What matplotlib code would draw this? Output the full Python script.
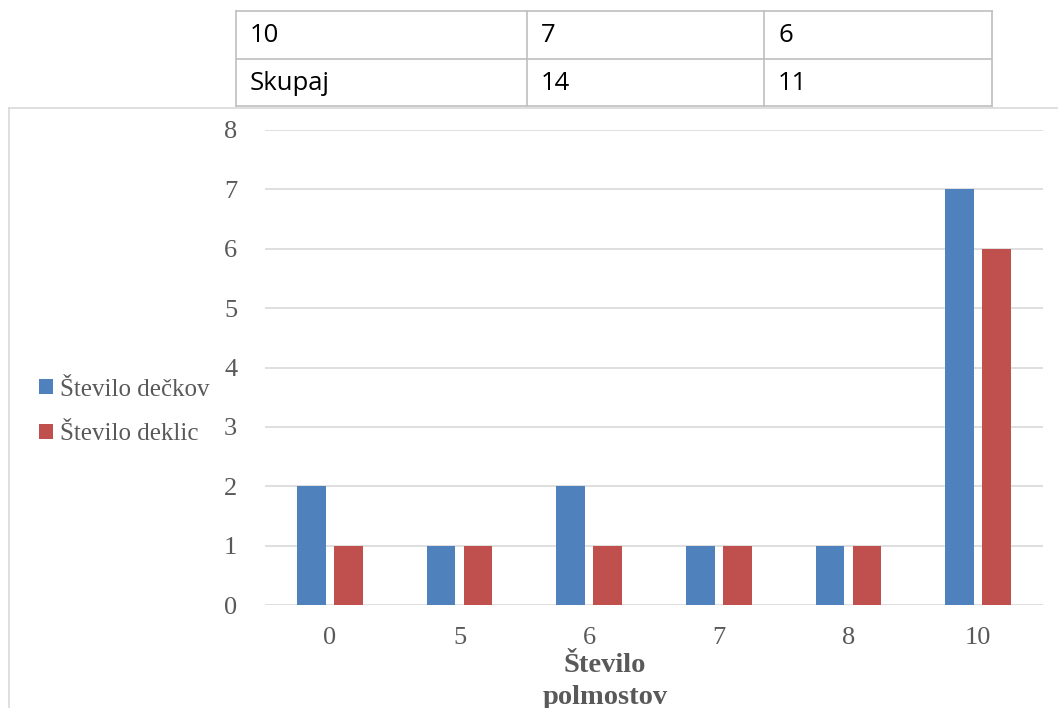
import matplotlib
matplotlib.use("Agg")
import matplotlib.pyplot as plt
import numpy as np
from matplotlib.lines import Line2D

# Data
categories = ["0", "5", "6", "7", "8", "10"]
boys = [2, 1, 2, 1, 1, 7]
girls = [1, 1, 1, 1, 1, 6]
series_labels = ["Število dečkov", "Število deklic"]
table_rows = [["10", "7", "6"], ["Skupaj", "14", "11"]]
y_ticks = [0, 1, 2, 3, 4, 5, 6, 7, 8]

W, H = 1058, 708
fig = plt.figure(figsize=(W / 100, H / 100), dpi=100)


def fx(px):
    return px / W


def fy(py):
    return 1 - py / H


# Table fragment above the chart
tcol = "#bfbfbf"
col_edges = [236, 527, 764, 992]
row_edges = [11, 59, 106]
for yy in row_edges:
    fig.add_artist(Line2D([fx(col_edges[0]), fx(col_edges[-1])], [fy(yy), fy(yy)],
                          color=tcol, lw=1.2))
for xx in col_edges:
    fig.add_artist(Line2D([fx(xx), fx(xx)], [fy(row_edges[0]), fy(row_edges[-1])],
                          color=tcol, lw=1.2))
for r, row in enumerate(table_rows):
    yc = (row_edges[r] + row_edges[r + 1]) / 2 + 1
    for c, txt in enumerate(row):
        fig.text(fx(col_edges[c] + 14), fy(yc), txt, family="Open Sans",
                 fontsize=18.5, color="black", va="center", ha="left")

# Chart frame
fcol = "#d9d9d9"
fig.add_artist(Line2D([fx(9), fx(9)], [fy(108), 0], color=fcol, lw=1.2))
fig.add_artist(Line2D([fx(9), 1], [fy(108), fy(108)], color=fcol, lw=1.2))

# Plot area
ax = fig.add_axes([fx(265), fy(605), (1043 - 265) / W, (605 - 130) / H])
x = np.arange(len(categories))
bw = 0.223
off = 0.1425
b1 = ax.bar(x - off, boys, width=bw, color="#4f81bd", label=series_labels[0], zorder=3)
b2 = ax.bar(x + off, girls, width=bw, color="#c0504d", label=series_labels[1], zorder=3)

ax.set_xlim(-0.5, len(categories) - 0.5)
ax.set_ylim(0, 8)
ax.set_yticks(y_ticks)
ax.set_xticks(x)
ax.set_xticklabels(categories)
ax.yaxis.grid(True, color=fcol, lw=1.2, zorder=0)
for s in ax.spines.values():
    s.set_visible(False)
ax.tick_params(axis="both", length=0, labelcolor="#595959", labelsize=19)
ax.tick_params(axis="y", pad=20)
ax.tick_params(axis="x", pad=16)
for lab in ax.get_xticklabels() + ax.get_yticklabels():
    lab.set_family("Liberation Serif")

ax.set_xlabel("Število\npolmostov", family="Liberation Serif", fontweight="bold",
              fontsize=20.5, color="#595959", linespacing=1.4)
ax.xaxis.set_label_coords((605 - 265) / (1043 - 265), -0.1)

fig.legend(handles=[b1, b2], labels=series_labels, loc="center left",
           bbox_to_anchor=(fx(29), fy(412)), frameon=False,
           prop={"family": "Liberation Serif", "size": 18},
           labelcolor="#595959", handlelength=0.55, handleheight=0.55,
           handletextpad=0.3, labelspacing=0.9, borderaxespad=0)

fig.savefig("out.png", dpi=100)
